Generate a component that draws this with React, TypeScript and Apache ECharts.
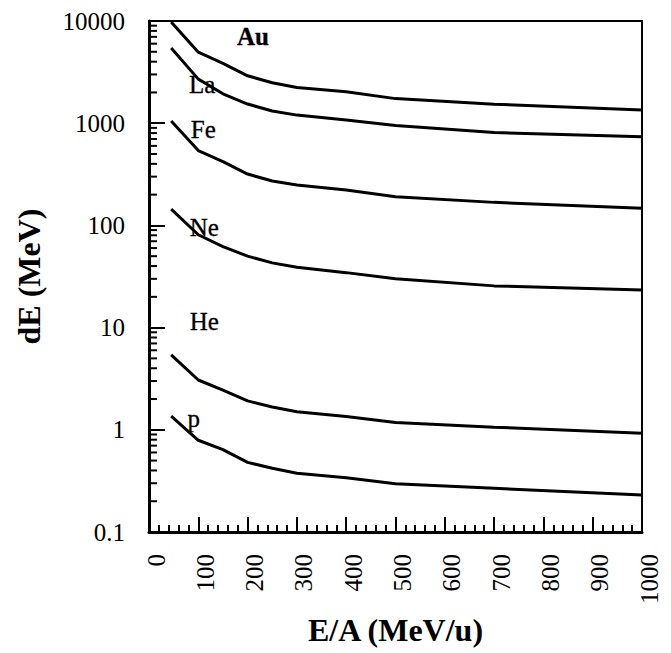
import React, { useEffect, useRef } from "react";
import * as echarts from "echarts";

// Energy per nucleon (MeV/u)
const ENERGY = [45, 100, 150, 200, 250, 300, 400, 500, 700, 1000];

// Energy loss dE (MeV) for each ion
const AU = [9800, 4950, 3850, 2910, 2490, 2240, 2030, 1740, 1535, 1346];
const LA = [5450, 2700, 1940, 1540, 1318, 1200, 1075, 950, 810, 738];
const FE = [1050, 540, 420, 318, 272, 248, 222, 191, 168, 147];
const NE = [144, 81, 62, 50, 43, 38.9, 34.5, 30, 25.6, 23.3];
const HE = [5.4, 3.07, 2.45, 1.92, 1.67, 1.5, 1.35, 1.18, 1.06, 0.925];
const P = [1.36, 0.79, 0.64, 0.48, 0.42, 0.375, 0.34, 0.296, 0.268, 0.23];

const SERIES_NAMES = ["Au", "La", "Fe", "Ne", "He", "p"];
const SERIES_VALUES = [AU, LA, FE, NE, HE, P];

// Curve labels (name, energy, dE)
const LABEL_NAMES = ["Au", "La", "Fe", "Ne", "He", "p"];
const LABEL_E = [211, 108, 110, 112, 112, 91];
const LABEL_V = [7130, 2417, 858, 96, 11.6, 1.3];

// Log-axis minor ticks: multipliers within each decade
const DECADES = [0.1, 1, 10, 100, 1000];
const MINOR_MULT = [2, 3, 4, 5, 6, 7, 8, 9];

const FONT = "'Liberation Serif', 'Times New Roman', serif";

export default function App() {
  const ref = useRef<HTMLDivElement>(null);

  useEffect(() => {
    if (!ref.current) return;
    const chart = echarts.init(ref.current, undefined, { renderer: "svg" });

    const minorTickData: number[][] = [];
    DECADES.forEach((d) => MINOR_MULT.forEach((m) => minorTickData.push([0, d * m])));

    const lineSeries = SERIES_NAMES.map((name, i) => ({
      name,
      type: "line",
      data: ENERGY.map((e, j) => [e, SERIES_VALUES[i][j]]),
      symbol: "none",
      smooth: false,
      lineStyle: { color: "#000", width: 3 },
      itemStyle: { color: "#000" },
      z: 3,
    }));

    chart.setOption({
      animation: false,
      backgroundColor: "#fff",
      grid: {
        left: 149,
        top: 21,
        width: 493,
        height: 511,
        show: true,
        borderColor: "#000",
        borderWidth: 2,
        containLabel: false,
      },
      xAxis: {
        type: "value",
        min: 0,
        max: 1000,
        interval: 100,
        name: "E/A (MeV/u)",
        nameLocation: "middle",
        nameGap: 82,
        nameTextStyle: {
          fontFamily: FONT,
          fontSize: 32,
          fontWeight: "bold",
          color: "#000",
          verticalAlign: "top",
        },
        axisLine: { show: true, onZero: false, lineStyle: { color: "#000", width: 3 } },
        axisTick: { show: true, inside: true, length: 15, lineStyle: { color: "#000", width: 2 } },
        minorTick: { show: true, splitNumber: 5, length: 7, lineStyle: { color: "#000", width: 2 } },
        splitLine: { show: false },
        minorSplitLine: { show: false },
        axisLabel: {
          rotate: 90,
          margin: 22,
          fontFamily: FONT,
          fontSize: 25,
          color: "#000",
          verticalAlign: "top",
          lineHeight: 14,
          formatter: (v: number) => String(v),
          showMinLabel: true,
          showMaxLabel: true,
        },
      },
      yAxis: {
        type: "log",
        logBase: 10,
        min: 0.1,
        max: 10000,
        name: "dE (MeV)",
        nameLocation: "middle",
        nameGap: 104,
        nameTextStyle: {
          fontFamily: FONT,
          fontSize: 32,
          fontWeight: "bold",
          color: "#000",
        },
        axisLine: { show: true, lineStyle: { color: "#000", width: 3 } },
        axisTick: { show: true, inside: true, length: 16, lineStyle: { color: "#000", width: 2 } },
        splitLine: { show: false },
        minorTick: { show: false },
        axisLabel: {
          margin: 24,
          fontFamily: FONT,
          fontSize: 25,
          color: "#000",
          formatter: (v: number) => (v < 1 ? v.toFixed(1) : String(Math.round(v))),
        },
      },
      series: [
        ...lineSeries,
        {
          type: "custom",
          name: "minorTicks",
          clip: false,
          silent: true,
          data: minorTickData,
          encode: { x: 0, y: 1 },
          renderItem: (params: any, api: any) => {
            const p = api.coord([0, api.value(1)]);
            return {
              type: "line",
              shape: { x1: p[0], y1: p[1], x2: p[0] + 8, y2: p[1] },
              style: { stroke: "#000", lineWidth: 2 },
            };
          },
          z: 4,
        },
        {
          type: "scatter",
          name: "labels",
          silent: true,
          symbolSize: 1,
          itemStyle: { color: "#fff", opacity: 1 },
          data: LABEL_NAMES.map((n, i) => ({
            value: [LABEL_E[i], LABEL_V[i]],
            name: n,
            label: {
              fontWeight: n === "Au" ? "bold" : "normal",
            },
          })),
          label: {
            show: true,
            position: "inside",
            formatter: (p: any) => p.name,
            fontFamily: FONT,
            fontSize: 25,
            color: "#000",
            textBorderColor: "#000",
            textBorderWidth: 0.3,
          },
          z: 5,
        },
      ],
    });

    return () => chart.dispose();
  }, []);

  return (
    <div
      ref={ref}
      style={{ position: "absolute", left: 0, top: 0, width: 671, height: 653 }}
    />
  );
}
